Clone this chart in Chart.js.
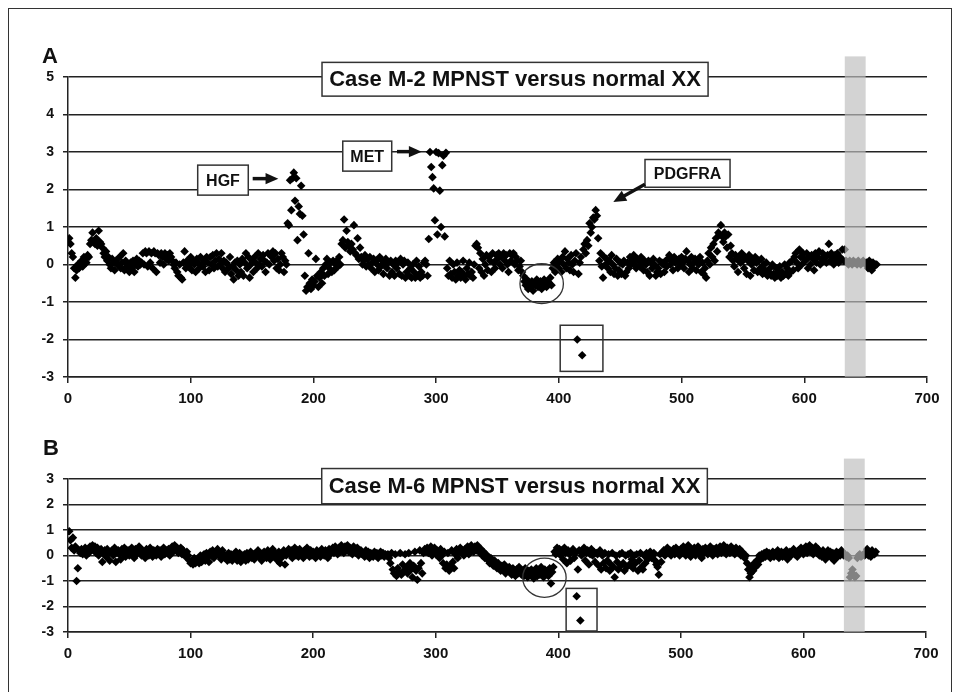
<!DOCTYPE html>
<html>
<head>
<meta charset="utf-8">
<script src="https://cdn.jsdelivr.net/npm/chart.js@4.4.1/dist/chart.umd.min.js"></script>
<style>
  html, body { margin: 0; padding: 0; background: #fff; }
  body { width: 962px; height: 692px; position: relative; overflow: hidden; }
  #frame { position: absolute; left: 8px; top: 8px; width: 942px; height: 720px; border: 1.5px solid #333; }
  canvas { position: absolute; left: 0; }
  #chartA { top: 0; }
  #chartB { top: 420px; }
</style>
</head>
<body>
<div id="frame"></div>
<canvas id="chartA" width="962" height="420"></canvas>
<canvas id="chartB" width="962" height="272"></canvas>
<script>
// log2 ratios per probe, case M-2 (probes 1..659)
const m2Seg1 = [
  0.7, 0.55, 0.3, 0.2, -0.1, -0.35, -0.15, 0.0, -0.1, 0.05,
  0.1, -0.05, 0.2, 0.15, 0.05, 0.25, 0.2, 0.55, 0.65, 0.85,
  0.6, 0.55, 0.7, 0.5, 0.9, 0.6, 0.55, 0.45, 0.3, 0.2,
  0.35, 0.1, 0.2, 0.0, -0.1, 0.15, 0.05, -0.15, 0.1, 0.0,
  0.0, 0.2, -0.1, 0.05, 0.3, -0.15, 0.1, -0.05, 0.0, -0.2,
  0.05, -0.1, 0.1, -0.2, 0.0, 0.15, -0.05, 0.1, 0.0, 0.05,
  0.3, 0.0, 0.35, 0.3, -0.05, 0.35, 0.05, 0.3, -0.1, 0.35,
  0.3, -0.2, 0.3, 0.25, 0.05, 0.3, 0.2, 0.0, 0.3, 0.15,
  0.25, 0.1, 0.3, 0.2, 0.1, 0.0, -0.1, 0.05, -0.2, -0.3,
  0.0, -0.35, -0.4, 0.05, 0.35, -0.1, 0.1, -0.05, 0.0, 0.2
];
const m2Seg2 = [
  -0.15, 0.1, 0.0, -0.2, 0.15, 0.05, -0.1, 0.2, 0.0, -0.05,
  0.1, -0.2, 0.2, 0.05, -0.15, 0.2, 0.0, 0.25, -0.1, 0.1,
  0.3, -0.05, 0.15, 0.0, 0.3, -0.1, 0.1, -0.2, 0.05, 0.0,
  -0.1, 0.2, -0.25, -0.05, -0.4, 0.05, -0.15, 0.1, -0.3, 0.0,
  -0.2, 0.15, -0.3, 0.05, 0.3, -0.1, 0.2, -0.35, 0.0, 0.1,
  -0.2, 0.2, 0.05, -0.1, 0.3, 0.0, 0.15, -0.05, 0.25, 0.1,
  -0.2, 0.05, 0.3, 0.0, 0.25, 0.2, 0.35, 0.1, 0.3, -0.1,
  0.15, -0.15, 0.0, 0.3, 0.2, -0.2, 0.1, 0.0, 1.1, 1.05,
  2.25, 1.45, 2.3, 2.45, 1.7, 2.3, 0.65, 1.55, 1.35, 2.1,
  1.3, 0.8, -0.3, -0.7, -0.6, 0.3, -0.5, -0.65, -0.4, -0.55
];
const m2Seg3 = [
  -0.45, 0.15, -0.3, -0.6, -0.35, -0.2, -0.5, -0.1, -0.3, 0.0,
  0.15, -0.25, -0.1, 0.05, -0.2, 0.1, -0.15, 0.0, 0.1, -0.05,
  0.2, 0.0, 0.55, 0.65, 1.2, 0.45, 0.9, 0.6, 0.5, 0.35,
  0.55, 0.4, 1.05, 0.3, 0.25, 0.7, 0.15, 0.45, 0.2, 0.0,
  0.1, 0.25, -0.05, 0.15, 0.0, 0.2, -0.1, 0.05, 0.15, -0.2,
  0.1, 0.0, -0.15, 0.2, -0.05, 0.1, -0.25, 0.0, 0.15, -0.1,
  0.05, -0.3, 0.1, -0.2, 0.0, -0.3, 0.1, -0.1, 0.05, -0.25,
  0.15, -0.3, 0.0, 0.1, -0.35, -0.2, 0.05, -0.3, -0.1, -0.35,
  0.0, -0.2, -0.35, 0.1, -0.3, -0.05, -0.35, -0.2, -0.3, 0.05,
  0.1, 0.0, -0.3, 0.68, 3.0, 2.6, 2.33, 2.03, 1.18, 3.0
];
const m2Seg4 = [
  0.8, 2.97, 1.97, 1.0, 2.65, 2.9, 0.75, 2.98, -0.1, -0.3,
  0.1, -0.25, -0.35, 0.0, -0.2, -0.4, 0.05, -0.3, -0.15, -0.35,
  -0.2, 0.1, -0.3, -0.4, -0.1, -0.25, 0.05, -0.3, -0.2, -0.35,
  0.0, 0.5, 0.55, 0.45, -0.1, 0.3, -0.2, 0.15, -0.3, 0.0,
  0.25, -0.15, 0.2, 0.1, -0.2, 0.3, 0.05, -0.1, 0.25, 0.15,
  0.3, 0.0, 0.2, -0.1, 0.3, 0.1, 0.25, 0.0, -0.2, 0.3,
  0.1, 0.25, 0.3, 0.0, 0.2, 0.1, -0.15, -0.05, 0.1, -0.2,
  -0.3, -0.45, -0.55, -0.4, -0.65, -0.5, -0.6, -0.45, -0.7, -0.5,
  -0.55, -0.4, -0.6, -0.5, -0.45, -0.65, -0.5, -0.4, -0.55, -0.6,
  -0.45, -0.5, -0.35, -0.55, -0.1, 0.05, -0.2, 0.0, 0.15, -0.1
];
const m2Seg5 = [
  0.1, -0.2, 0.2, 0.0, 0.35, -0.1, 0.15, 0.05, -0.15, 0.25,
  0.0, -0.2, 0.1, 0.3, -2.0, -0.25, 0.05, 0.2, -2.42, 0.4,
  0.55, 0.3, 0.65, 0.5, 1.1, 0.85, 1.0, 1.25, 1.2, 1.45,
  1.3, 0.7, 0.1, 0.3, -0.05, -0.35, 0.2, 0.0, 0.15, -0.1,
  0.1, -0.2, 0.25, 0.0, -0.25, -0.1, 0.15, -0.3, -0.15, 0.05,
  -0.25, 0.0, 0.1, -0.3, -0.2, 0.05, -0.1, 0.2, 0.0, 0.1,
  0.25, 0.0, -0.1, 0.15, 0.1, -0.05, 0.2, 0.05, -0.15, 0.1,
  0.0, -0.2, 0.1, -0.3, 0.05, -0.1, 0.15, 0.0, -0.3, -0.2,
  -0.1, 0.1, -0.25, 0.05, 0.0, -0.2, 0.1, -0.05, 0.15, 0.25,
  0.0, 0.1, -0.15, 0.2, 0.05, 0.1, -0.1, 0.15, 0.0, 0.2
];
const m2Seg6 = [
  0.05, -0.1, 0.15, 0.35, 0.1, -0.2, 0.0, 0.2, -0.1, 0.05,
  0.15, -0.15, 0.1, 0.0, 0.2, -0.2, 0.05, -0.25, -0.1, -0.35,
  0.1, 0.3, 0.0, 0.45, 0.2, 0.55, 0.1, 0.7, 0.35, 0.85,
  0.8, 1.05, 0.75, 0.6, 0.85, 0.75, 0.45, 0.8, 0.2, 0.5,
  0.3, 0.1, -0.05, 0.25, 0.15, -0.2, 0.2, 0.05, 0.3, 0.1,
  -0.1, 0.2, -0.25, 0.1, 0.25, -0.3, 0.0, 0.15, -0.15, 0.2,
  0.05, -0.2, 0.1, -0.1, 0.15, -0.25, 0.0, -0.15, 0.05, -0.3,
  -0.2, -0.1, -0.3, 0.0, -0.25, -0.35, -0.1, -0.3, -0.2, -0.05,
  -0.35, -0.2, -0.3, 0.0, -0.25, -0.1, -0.3, 0.05, -0.2, 0.1,
  -0.15, 0.2, 0.3, 0.05, -0.1, 0.4, 0.2, 0.0, 0.3, 0.15
];
const m2Seg7 = [
  0.1, 0.3, -0.1, 0.2, 0.0, 0.25, 0.15, -0.15, 0.3, 0.05,
  0.2, 0.35, 0.0, 0.15, 0.3, 0.1, 0.2, 0.05, 0.25, 0.55,
  0.1, 0.3, 0.2, 0.0, 0.25, 0.1, 0.3, 0.05, 0.2, 0.15,
  0.4, 0.1, 0.4, 0.1, 0.05, 0.0, 0.1, 0.05, 0.0, 0.1,
  0.05, 0.05, 0.0, 0.1, 0.05, 0.0, 0.05, 0.1, 0.05, 0.0,
  0.05, -0.1, 0.1, 0.0, -0.15, 0.05, -0.05, 0.0, 0.0
];

// log2 ratios per probe, case M-6 (probes 1..659)
const m6Seg1 = [
  0.95, 0.6, 0.3, 0.7, 0.2, 0.35, -1.0, -0.5, 0.2, 0.1,
  0.25, 0.05, 0.15, 0.3, 0.0, 0.2, 0.1, 0.35, 0.25, 0.4,
  0.2, 0.35, 0.1, 0.3, 0.0, 0.15, 0.25, -0.25, 0.1, 0.2,
  -0.05, 0.25, 0.1, -0.2, 0.15, 0.2, 0.0, 0.3, -0.25, 0.1,
  0.2, 0.05, -0.15, 0.25, 0.1, 0.3, -0.05, 0.15, 0.2, 0.0,
  0.1, 0.3, 0.15, -0.1, 0.25, 0.05, 0.2, 0.35, 0.1, 0.0,
  0.2, 0.1, -0.1, 0.25, 0.15, 0.0, 0.3, 0.1, -0.05, 0.2,
  0.15, 0.0, 0.25, 0.1, 0.2, -0.05, 0.15, 0.3, 0.05, 0.2,
  0.1, 0.25, 0.0, 0.2, 0.35, 0.15, 0.4, 0.25, 0.3, 0.1,
  0.2, 0.3, 0.05, 0.2, 0.1, -0.05, 0.15, 0.0, -0.2, -0.3
];
const m6Seg2 = [
  -0.25, -0.35, -0.1, -0.3, -0.2, -0.15, -0.3, 0.0, -0.25, -0.1,
  0.05, -0.2, 0.1, -0.05, -0.25, 0.15, 0.0, 0.2, -0.1, 0.1,
  0.15, 0.25, 0.0, 0.1, -0.15, 0.2, 0.05, -0.1, 0.0, -0.2,
  0.1, -0.15, 0.05, -0.2, 0.0, -0.1, 0.15, -0.2, -0.05, 0.1,
  -0.25, 0.0, -0.1, 0.05, -0.2, 0.1, -0.15, 0.0, 0.15, -0.1,
  0.05, -0.15, 0.1, 0.0, 0.2, -0.05, 0.1, -0.2, 0.05, 0.15,
  0.0, -0.1, 0.2, 0.05, -0.15, 0.1, 0.25, -0.05, 0.1, 0.0,
  -0.2, 0.15, -0.3, -0.1, 0.05, 0.2, -0.35, 0.0, 0.1, 0.25,
  0.05, 0.2, -0.1, 0.15, 0.3, 0.0, 0.2, -0.05, 0.25, 0.1,
  0.15, -0.1, 0.2, 0.05, 0.3, 0.1, -0.05, 0.2, 0.0, 0.15
];
const m6Seg3 = [
  0.1, -0.1, 0.2, 0.05, 0.15, -0.05, 0.25, 0.1, 0.0, 0.2,
  0.15, -0.1, 0.25, 0.05, 0.2, 0.3, 0.1, 0.35, 0.2, 0.05,
  0.3, 0.15, 0.4, 0.25, 0.1, 0.35, 0.2, 0.4, 0.15, 0.3,
  0.25, 0.05, 0.35, 0.2, 0.1, 0.3, 0.0, 0.15, 0.2, 0.05,
  0.1, -0.05, 0.2, 0.0, 0.15, -0.1, 0.1, 0.05, -0.05, 0.15,
  0.0, 0.1, -0.1, 0.05, 0.15, 0.0, 0.1, -0.05, 0.05, 0.0,
  0.05, -0.1, -0.3, 0.1, -0.55, -0.7, 0.05, -0.8, -0.5, -0.65,
  0.1, -0.75, -0.35, -0.6, 0.05, -0.45, -0.7, 0.1, -0.3, -0.55,
  -0.85, -0.4, 0.15, -0.6, -0.95, -0.5, 0.2, -0.3, -0.7, 0.1,
  0.25, 0.15, 0.3, 0.1, 0.2, 0.35, 0.0, 0.15, 0.3, 0.05
];
const m6Seg4 = [
  0.2, 0.1, -0.1, 0.25, 0.0, -0.3, 0.15, -0.5, -0.35, 0.1,
  -0.6, -0.4, 0.2, -0.25, -0.5, 0.05, 0.25, -0.1, 0.15, 0.3,
  0.1, 0.2, 0.0, 0.25, 0.15, 0.35, 0.05, 0.2, 0.4, 0.3,
  0.15, 0.35, 0.2, 0.4, 0.3, 0.1, 0.25, 0.0, 0.15, -0.1,
  0.05, -0.15, -0.05, -0.3, -0.1, -0.25, -0.4, -0.2, -0.35, -0.5,
  -0.3, -0.45, -0.6, -0.4, -0.55, -0.35, -0.7, -0.5, -0.6, -0.45,
  -0.65, -0.75, -0.5, -0.6, -0.8, -0.55, -0.7, -0.45, -0.65, -0.75,
  -0.6, -0.8, -0.5, -0.7, -0.85, -0.6, -0.75, -0.55, -0.7, -0.9,
  -0.65, -0.5, -0.8, -0.6, -0.75, -0.45, -0.7, -0.85, -0.55, -0.7,
  -0.6, -0.8, -0.5, -1.1, -0.65, -0.45, 0.15, 0.05, 0.3, 0.1
];
const m6Seg5 = [
  0.25, 0.0, 0.2, -0.15, 0.3, 0.1, -0.3, 0.2, 0.05, -0.2,
  0.15, 0.25, -0.1, 0.1, -1.6, -0.55, 0.2, -2.55, 0.0, 0.15,
  0.3, -0.2, 0.1, 0.2, -0.35, 0.05, 0.25, 0.0, 0.15, -0.25,
  0.1, 0.05, -0.4, 0.2, -0.55, 0.0, -0.3, 0.1, -0.5, -0.2,
  0.05, -0.6, -0.35, 0.1, -0.45, -0.85, 0.0, -0.25, -0.55, 0.05,
  -0.4, 0.1, -0.3, -0.6, 0.0, -0.45, 0.05, -0.35, 0.1, -0.15,
  -0.5, 0.0, -0.3, 0.05, -0.6, -0.2, 0.1, -0.45, -0.55, 0.0,
  -0.3, 0.1, -0.15, 0.05, 0.15, -0.1, 0.0, 0.1, -0.2, -0.35,
  -0.45, -0.75, 0.05, -0.25, 0.1, 0.2, 0.0, 0.15, 0.3, 0.1,
  0.2, 0.0, 0.15, 0.25, 0.05, 0.3, 0.1, 0.2, 0.0, 0.25
];
const m6Seg6 = [
  0.1, 0.35, 0.15, 0.0, 0.2, 0.4, 0.1, -0.05, 0.25, 0.1,
  0.3, 0.0, 0.15, 0.35, 0.05, 0.2, -0.1, 0.25, 0.1, 0.3,
  0.15, 0.05, 0.2, 0.35, 0.1, 0.0, 0.25, 0.15, 0.3, 0.05,
  0.2, 0.35, 0.1, 0.25, 0.4, 0.15, 0.05, 0.3, 0.2, 0.1,
  0.35, 0.15, 0.25, 0.05, 0.3, 0.2, 0.1, 0.25, 0.0, 0.15,
  0.05, -0.1, 0.0, -0.3, -0.55, -0.85, -0.7, -0.4, -0.6, -0.3,
  -0.45, -0.2, -0.35, 0.0, -0.15, 0.05, -0.1, 0.1, -0.05, 0.15,
  0.0, 0.1, -0.1, 0.05, 0.15, -0.05, 0.1, 0.0, 0.2, -0.1,
  0.05, 0.15, -0.05, 0.1, 0.0, 0.2, -0.15, 0.05, 0.15, 0.0,
  0.1, 0.25, 0.05, 0.15, -0.05, 0.2, 0.1, 0.3, 0.15, 0.05
];
const m6Seg7 = [
  0.2, 0.35, 0.1, 0.25, 0.4, 0.15, 0.3, 0.05, 0.2, 0.35,
  0.1, 0.25, 0.0, 0.15, -0.05, 0.2, 0.1, -0.15, 0.05, 0.2,
  0.0, 0.15, -0.1, 0.1, -0.2, 0.05, 0.15, -0.05, 0.1, 0.0,
  0.2, 0.05, 0.0, 0.05, -0.05, 0.0, -0.1, -0.85, -0.7, -0.55,
  -0.75, -0.85, -0.8, -0.1, 0.0, 0.05, -0.05, 0.0, 0.05, 0.0,
  0.1, 0.25, 0.0, 0.15, -0.05, 0.2, 0.1, 0.05, 0.15
];

const xTicks = [0, 100, 200, 300, 400, 500, 600, 700];

const caseM2 = [].concat(m2Seg1, m2Seg2, m2Seg3, m2Seg4, m2Seg5, m2Seg6, m2Seg7);
const caseM6 = [].concat(m6Seg1, m6Seg2, m6Seg3, m6Seg4, m6Seg5, m6Seg6, m6Seg7);

const FONT = '"Liberation Sans", Arial, sans-serif';

// callouts, rings and the shaded band, placed in data units
const overlay = {
  id: 'overlay',
  afterDatasetsDraw(chart, args, o) {
    const ctx = chart.ctx, x = chart.scales.x, y = chart.scales.y;
    const px = v => x.getPixelForValue(v), py = v => y.getPixelForValue(v);
    ctx.save();

    // translucent band over the sex-chromosome probes
    ctx.fillStyle = 'rgba(190,190,190,0.68)';
    ctx.fillRect(px(o.band.x0), py(o.band.top), px(o.band.x1) - px(o.band.x0), py(y.min) - py(o.band.top));

    ctx.strokeStyle = '#333';
    ctx.lineWidth = 1.3;
    ctx.beginPath();
    ctx.ellipse(px(o.ring.x), py(o.ring.y), px(o.ring.x + o.ring.rx) - px(o.ring.x), py(o.ring.y - o.ring.ry) - py(o.ring.y), 0, 0, Math.PI * 2);
    ctx.stroke();
    ctx.lineWidth = 1.5;
    ctx.strokeRect(px(o.box.x0), py(o.box.y0), px(o.box.x1) - px(o.box.x0), py(o.box.y1) - py(o.box.y0));

    const label = (b, size) => {
      const l = px(b.x0), t = py(b.y0), w = px(b.x1) - l, h = py(b.y1) - t;
      ctx.fillStyle = '#fff';
      ctx.fillRect(l, t, w, h);
      ctx.lineWidth = 1.5;
      ctx.strokeStyle = '#333';
      ctx.strokeRect(l, t, w, h);
      ctx.fillStyle = '#111';
      ctx.font = 'bold ' + size + 'px ' + FONT;
      ctx.textAlign = 'center';
      ctx.textBaseline = 'middle';
      ctx.fillText(b.text, l + w / 2, t + h / 2 + 1);
    };
    label(o.title, 22);
    o.labels.forEach(b => label(b, 16));

    o.arrows.forEach(a => {
      const x0 = px(a.from[0]), y0 = py(a.from[1]), x1 = px(a.to[0]), y1 = py(a.to[1]);
      const ang = Math.atan2(y1 - y0, x1 - x0), head = 14;
      ctx.strokeStyle = '#111';
      ctx.fillStyle = '#111';
      ctx.lineWidth = 3.5;
      ctx.beginPath();
      ctx.moveTo(x0, y0);
      ctx.lineTo(x1 - Math.cos(ang) * head * 0.8, y1 - Math.sin(ang) * head * 0.8);
      ctx.stroke();
      ctx.beginPath();
      ctx.moveTo(x1, y1);
      ctx.lineTo(x1 - head * Math.cos(ang - 0.42), y1 - head * Math.sin(ang - 0.42));
      ctx.lineTo(x1 - head * Math.cos(ang + 0.42), y1 - head * Math.sin(ang + 0.42));
      ctx.closePath();
      ctx.fill();
    });

    ctx.fillStyle = '#111';
    ctx.font = 'bold 22px ' + FONT;
    ctx.textAlign = 'left';
    ctx.textBaseline = 'alphabetic';
    ctx.fillText(o.tag, o.tagAt[0], o.tagAt[1]);
    ctx.restore();
  }
};

function makePanel(id, values, yMax, pad, notes) {
  const points = values.map((v, i) => ({ x: i + 1, y: v }));
  return new Chart(document.getElementById(id), {
    type: 'scatter',
    data: {
      datasets: [{
        data: points,
        pointStyle: 'rectRot',
        pointRadius: 4.3,
        backgroundColor: '#000',
        borderWidth: 0
      }]
    },
    options: {
      responsive: false,
      animation: false,
      layout: { padding: pad },
      plugins: { legend: { display: false }, tooltip: { enabled: false }, overlay: notes },
      scales: {
        x: {
          type: 'linear', min: 0, max: 700,
          afterBuildTicks: s => { s.ticks = xTicks.map(v => ({ value: v })); },
          ticks: { color: '#111', font: { family: FONT, size: 15, weight: 'bold' }, padding: 7, maxRotation: 0 },
          grid: { drawOnChartArea: false, tickLength: 6, color: '#222', lineWidth: 1.5 },
          border: { color: '#222', width: 1.5 },
          afterFit: s => { s.height = 30; }
        },
        y: {
          min: -3, max: yMax,
          ticks: { stepSize: 1, color: '#111', font: { family: FONT, size: 14, weight: 'bold' }, padding: 9 },
          grid: { color: '#222', lineWidth: 1.5, tickLength: 5 },
          border: { color: '#222', width: 1.5 },
          afterFit: s => { s.width = 40; }
        }
      }
    },
    plugins: [overlay]
  });
}

makePanel('chartA', caseM2, 5, { left: 28, right: 35, top: 77, bottom: 13 }, {
  tag: 'A', tagAt: [42, 63],
  title: { text: 'Case M-2 MPNST versus normal XX', x0: 207, x1: 521.6, y0: 5.39, y1: 4.49 },
  labels: [
    { text: 'HGF', x0: 105.7, x1: 146.9, y0: 2.65, y1: 1.85 },
    { text: 'MET', x0: 223.9, x1: 263.8, y0: 3.29, y1: 2.49 },
    { text: 'PDGFRA', x0: 470.2, x1: 539.5, y0: 2.8, y1: 2.06 }
  ],
  arrows: [
    { from: [150.5, 2.29], to: [171.4, 2.29] },
    { from: [268.1, 3.01], to: [288.2, 3.01] },
    { from: [470.2, 2.14], to: [444.4, 1.67] }
  ],
  ring: { x: 386, y: -0.51, rx: 17.7, ry: 0.53 },
  box: { x0: 401.1, x1: 435.9, y0: -1.62, y1: -2.85 },
  band: { x0: 633, x1: 650, top: 5.55 }
});

makePanel('chartB', caseM6, 3, { left: 28, right: 36, top: 59, bottom: 30 }, {
  tag: 'B', tagAt: [43, 35],
  title: { text: 'Case M-6 MPNST versus normal XX', x0: 207, x1: 521.6, y0: 3.41, y1: 2.03 },
  labels: [],
  arrows: [],
  ring: { x: 388.7, y: -0.87, rx: 17.7, ry: 0.77 },
  box: { x0: 406.4, x1: 431.6, y0: -1.29, y1: -2.96 },
  band: { x0: 633, x1: 650, top: 3.8 }
});
</script>
</body>
</html>
